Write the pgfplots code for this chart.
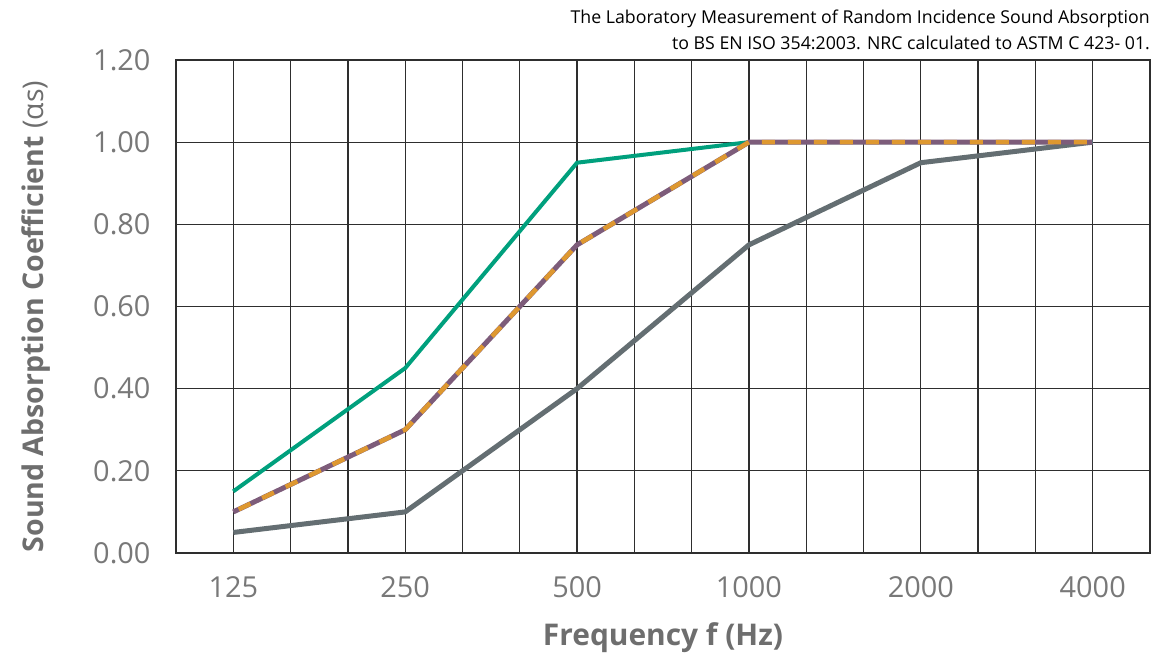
\documentclass[border=0pt]{standalone}
\usepackage{pgfplots}
\pgfplotsset{compat=1.18}
\usepackage{fontspec}
\setmainfont{Open Sans}
\definecolor{cgreen}{RGB}{0,160,125}
\definecolor{cpurple}{RGB}{125,92,122}
\definecolor{corange}{RGB}{222,152,48}
\definecolor{cgray}{RGB}{100,110,114}
\definecolor{ctick}{RGB}{120,120,120}
\definecolor{clabel}{RGB}{110,110,110}
\begin{document}
\begin{tikzpicture}[x=1bp,y=1bp]
\path[use as bounding box] (-176,-100) rectangle (976,553);
\begin{axis}[
  at={(0,0)}, anchor=south west,
  scale only axis, width=974bp, height=493bp,
  xmin=-0.33333, xmax=5.33333, ymin=0, ymax=1.2,
  xtick={0,1,2,3,4,5},
  xticklabels={125,250,500,1000,2000,4000},
  minor x tick num=2,
  ytick={0,0.2,0.4,0.6,0.8,1.0,1.2},
  y tick label style={/pgf/number format/fixed, /pgf/number format/fixed zerofill, /pgf/number format/precision=2},
  /pgf/number format/assume math mode=true,
  grid=both,
  major grid style={line width=1.3bp, color=black!82},
  minor grid style={line width=1.3bp, color=black!82},
  axis line style={line width=1.3bp, color=black!82},
  major tick length=0pt, minor tick length=0pt,
  tick label style={font=\fontsize{29}{34}\selectfont, color=ctick},
  xticklabel style={yshift=-20bp},
  yticklabel style={xshift=-22bp},
  xlabel={\textbf{Frequency f (Hz)}},
  xlabel style={font=\fontsize{30}{34}\selectfont, color=clabel, yshift=-18bp},
  ylabel={\textbf{Sound Absorption Coefficient} (αs)},
  ylabel style={font=\fontsize{28.6}{33}\selectfont, color=clabel, yshift=36bp, xshift=-10bp},
  clip=false,
]
\addplot[cgray, line width=5bp, line join=round] coordinates {(0,0.05) (1,0.10) (2,0.40) (3,0.75) (4,0.95) (5,1.00)};
\addplot[cgreen, line width=4bp, line join=round] coordinates {(0,0.15) (1,0.45) (2,0.95) (3,1.00) (4,1.00) (5,1.00)};
\addplot[cpurple, line width=5bp, line join=round] coordinates {(0,0.10) (1,0.30) (2,0.75) (3,1.00) (4,1.00) (5,1.00)};
\addplot[corange, line width=4.5bp, dash pattern=on 13bp off 13bp, dash phase=-6bp] coordinates {(0,0.10) (1,0.30) (2,0.75) (3,1.00) (4,1.00) (5,1.00)};
\end{axis}
\node[anchor=north east, align=right, font=\fontsize{17.8}{26}\selectfont, inner sep=0pt] at (974,543) {The Laboratory Measurement of Random Incidence Sound Absorption\\to BS EN ISO 354:2003. NRC calculated to ASTM C 423- 01.};
\end{tikzpicture}
\end{document}
